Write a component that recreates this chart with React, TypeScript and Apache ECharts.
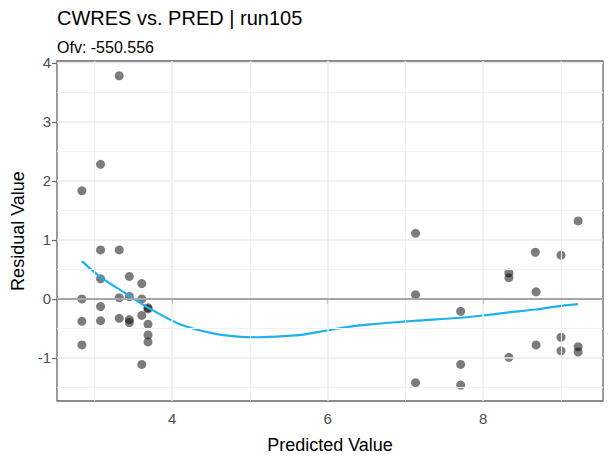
import React, { useEffect, useRef } from "react";
import * as echarts from "echarts";

// Observations: predicted value (x) and conditional weighted residual (y)
const predX = [
  2.84, 2.84, 2.84, 2.84,
  3.08, 3.08, 3.08, 3.08, 3.08,
  3.32, 3.32, 3.32, 3.32,
  3.45, 3.45, 3.45, 3.45,
  3.61, 3.61, 3.61, 3.61,
  3.69, 3.69, 3.69, 3.69, 3.69,
  7.13, 7.13, 7.13,
  7.71, 7.71, 7.71,
  8.33, 8.33, 8.33,
  8.67, 8.68, 8.68,
  9.0, 9.0, 9.0,
  9.22, 9.22, 9.22,
];
const cwres = [
  1.83, 0.0, -0.38, -0.78,
  2.28, 0.83, 0.34, -0.13, -0.37,
  3.78, 0.83, 0.02, -0.33,
  0.38, 0.04, -0.35, -0.4,
  0.26, 0.0, -0.28, -1.11,
  -0.15, -0.17, -0.43, -0.61, -0.73,
  1.11, 0.07, -1.42,
  -0.21, -1.11, -1.46,
  0.44, 0.36, -0.99,
  0.79, 0.12, -0.78,
  0.74, -0.65, -0.88,
  1.32, -0.81, -0.9,
];

// Loess smooth
const smoothX = [2.84, 3.08, 3.42, 3.68, 4.1, 4.51, 4.85, 5.11, 5.45, 5.71, 5.97, 6.23, 6.57, 6.83, 7.13, 7.71, 8.07, 8.33, 8.67, 8.93, 9.22];
const smoothY = [0.64, 0.37, 0.08, -0.14, -0.43, -0.58, -0.64, -0.65, -0.63, -0.6, -0.54, -0.48, -0.43, -0.4, -0.37, -0.32, -0.27, -0.23, -0.18, -0.13, -0.09];

const xTicks = [4, 6, 8];
const xMinor = [3, 5, 7, 9];
const yTicks = [-1, 0, 1, 2, 3, 4];
const yMinor = [-1.5, -0.5, 0.5, 1.5, 2.5, 3.5];

const xRange = [2.52, 9.54];
const yRange = [-1.73, 4.03];

const titleText = "CWRES vs. PRED | run105";
const subtitleText = "Ofv: -550.556";
const xTitle = "Predicted Value";
const yTitle = "Residual Value";

const FONT = "'Liberation Sans', Arial, sans-serif";

export default function App() {
  const ref = useRef<HTMLDivElement>(null);
  useEffect(() => {
    if (!ref.current) return;
    const chart = echarts.init(ref.current, null, { renderer: "svg" });
    const major = { color: "#EBEBEB", width: 1.5, type: "solid" };
    const minor = { color: "#F2F2F2", width: 1, type: "solid" };
    const gridLines = [
      ...xTicks.map((v) => ({ xAxis: v, lineStyle: major })),
      ...xMinor.map((v) => ({ xAxis: v, lineStyle: minor })),
      ...yTicks.map((v) => ({ yAxis: v, lineStyle: major })),
      ...yMinor.map((v) => ({ yAxis: v, lineStyle: minor })),
    ];
    chart.setOption({
      animation: false,
      backgroundColor: "#ffffff",
      textStyle: { fontFamily: FONT },
      title: [
        {
          text: titleText,
          left: 52,
          top: 3,
          textStyle: { fontFamily: FONT, fontSize: 20, fontWeight: "normal", color: "#000" },
        },
        {
          text: subtitleText,
          left: 52,
          top: 34,
          textStyle: { fontFamily: FONT, fontSize: 16, fontWeight: "normal", color: "#000" },
        },
      ],
      grid: {
        left: 57,
        right: 10,
        top: 61,
        bottom: 51,
        show: true,
        borderColor: "#666",
        borderWidth: 1.3,
        backgroundColor: "transparent",
        containLabel: false,
      },
      xAxis: {
        type: "value",
        min: xRange[0],
        max: xRange[1],
        name: xTitle,
        nameLocation: "middle",
        nameGap: 35,
        nameTextStyle: { fontFamily: FONT, fontSize: 18, color: "#000" },
        axisLine: { show: false },
        axisTick: { show: true, length: 5, customValues: xTicks, lineStyle: { color: "#666", width: 1.2 } },
        axisLabel: { customValues: xTicks, fontFamily: FONT, fontSize: 15, color: "#4D4D4D", margin: 10 },
        splitLine: { show: false },
      },
      yAxis: {
        type: "value",
        min: yRange[0],
        max: yRange[1],
        name: yTitle,
        nameLocation: "middle",
        nameGap: 30,
        nameTextStyle: { fontFamily: FONT, fontSize: 18, color: "#000" },
        axisLine: { show: false },
        axisTick: { show: true, length: 5, customValues: yTicks, lineStyle: { color: "#666", width: 1.2 } },
        axisLabel: { customValues: yTicks, fontFamily: FONT, fontSize: 15, color: "#4D4D4D", margin: 6 },
        splitLine: { show: false },
      },
      series: [
        {
          type: "line",
          name: "grid",
          data: [],
          z: 1,
          silent: true,
          markLine: {
            silent: true,
            symbol: ["none", "none"],
            label: { show: false },
            animation: false,
            data: gridLines,
          },
        },
        {
          type: "scatter",
          name: "obs",
          z: 2,
          symbolSize: 9,
          itemStyle: { color: "rgba(0,0,0,0.64)" },
          data: predX.map((x, i) => [x, cwres[i]]),
        },
        {
          type: "line",
          name: "zero",
          data: [],
          z: 3,
          silent: true,
          markLine: {
            silent: true,
            symbol: ["none", "none"],
            label: { show: false },
            animation: false,
            data: [{ yAxis: 0, lineStyle: { color: "#A6A6A6", width: 1.8, type: "solid" } }],
          },
        },
        {
          type: "line",
          name: "loess",
          z: 4,
          smooth: 0.3,
          showSymbol: false,
          symbol: "none",
          lineStyle: { color: "#1EB1EE", width: 2.2 },
          data: smoothX.map((x, i) => [x, smoothY[i]]),
        },
      ],
    });
    return () => chart.dispose();
  }, []);
  return <div ref={ref} style={{ width: 613, height: 459, position: "absolute", left: 0, top: 0 }} />;
}
